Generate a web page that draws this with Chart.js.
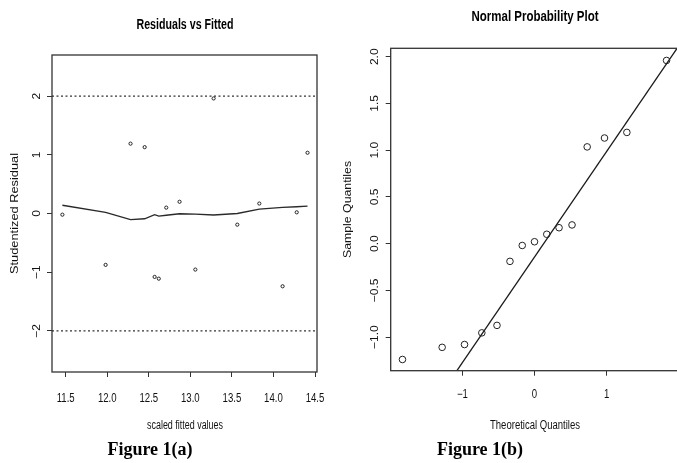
<!DOCTYPE html>
<html>
<head>
<meta charset="utf-8">
<script src="https://cdn.jsdelivr.net/npm/chart.js@4"></script>
<style>
  html, body { margin:0; padding:0; background:#fff; width:677px; height:463px; overflow:hidden; }
  #wrap { position:relative; width:677px; height:463px; overflow:hidden; }
  canvas { position:absolute; top:0; }
  #c1 { left:0; }
  #c2 { left:340px; }
</style>
</head>
<body>
<div id="wrap">
  <canvas id="c1" width="340" height="463"></canvas>
  <canvas id="c2" width="342" height="463"></canvas>
</div>
<script>
// ---------- Figure 1(a) data : Residuals vs Fitted ----------
const fittedX = [11.46, 11.98, 12.28, 12.45, 12.57, 12.62, 12.71, 12.87, 13.06, 13.28, 13.565, 13.83, 14.11, 14.28, 14.41];
const residY  = [-0.02, -0.875, 1.19, 1.13, -1.08, -1.11, 0.10, 0.20, -0.955, 1.96, -0.19, 0.17, -1.24, 0.02, 1.035];
const smoothY = [0.14, 0.02, -0.105, -0.09, -0.02, -0.045, -0.03, -0.005, -0.01, -0.025, 0.0, 0.075, 0.105, 0.115, 0.125];
const refLevels = [2, -2];
const leftXTicks = [11.5, 12.0, 12.5, 13.0, 13.5, 14.0, 14.5];
const leftXLabels = ["11.5", "12.0", "12.5", "13.0", "13.5", "14.0", "14.5"];
const leftYTicks = [-2, -1, 0, 1, 2];
const leftYLabels = ["\u22122", "\u22121", "0", "1", "2"];

// ---------- Figure 1(b) data : Normal Probability Plot ----------
const theoQ   = [-1.83, -1.28, -0.97, -0.73, -0.52, -0.34, -0.17, 0, 0.17, 0.34, 0.52, 0.73, 0.97, 1.28, 1.83];
const sampleQ = [-1.24, -1.11, -1.08, -0.955, -0.875, -0.19, -0.02, 0.02, 0.10, 0.17, 0.20, 1.035, 1.13, 1.19, 1.96];
const qqLineX = [-1.2, 2.1];
const qqLineY = [-1.50, 2.23];
const rightXTicks = [-1, 0, 1];
const rightXLabels = ["\u22121", "0", "1"];
const rightYTicks = [-1.0, -0.5, 0.0, 0.5, 1.0, 1.5, 2.0];
const rightYLabels = ["\u22121.0", "\u22120.5", "0.0", "0.5", "1.0", "1.5", "2.0"];

const SANS = '"Liberation Sans", Arial, Helvetica, sans-serif';
const SERIF = '"Liberation Serif", "Times New Roman", serif';

function drawText(ctx, txt, x, y, font, opt) {
  opt = opt || {};
  ctx.save();
  ctx.font = font;
  ctx.fillStyle = opt.color || '#111';
  ctx.textAlign = 'center';
  ctx.textBaseline = 'middle';
  ctx.translate(x, y);
  if (opt.rot) ctx.rotate(opt.rot);
  let sx = opt.sx || 1;
  if (opt.w) sx = opt.w / ctx.measureText(txt).width;
  ctx.scale(sx, opt.sy || 1);
  ctx.fillText(txt, 0, 0);
  ctx.restore();
}

function makeDecor(cfg) {
  return {
    id: 'decor',
    afterDraw(chart) {
      const ctx = chart.ctx, a = chart.chartArea;
      const xs = chart.scales.x, ys = chart.scales.y;
      ctx.save();
      ctx.strokeStyle = '#333';
      ctx.lineWidth = 1.3;
      ctx.strokeRect(a.left, a.top, a.right - a.left, a.bottom - a.top);
      ctx.restore();
      cfg.xTicks.forEach((v, i) => drawText(ctx, cfg.xLabels[i], xs.getPixelForValue(v), cfg.xLabelY, '12px ' + SANS, {sx: 0.8, color:'#111'}));
      cfg.yTicks.forEach((v, i) => drawText(ctx, cfg.yLabels[i], cfg.yLabelX, ys.getPixelForValue(v), '12px ' + SANS, {rot: -Math.PI/2, sy: 0.92, color:'#111'}));
      drawText(ctx, cfg.title, cfg.titleX, cfg.titleY, 'bold 14px ' + SANS, {w: cfg.titleW, color:'#000'});
      drawText(ctx, cfg.xTitle, cfg.xTitleX, cfg.xTitleY, '12px ' + SANS, {w: cfg.xTitleW, color:'#111'});
      drawText(ctx, cfg.yTitle, cfg.yTitleX, (a.top + a.bottom) / 2, cfg.yTitleFont + ' ' + SANS, {rot: -Math.PI/2, sy: 0.92, color:'#111'});
      drawText(ctx, cfg.caption, cfg.capX, cfg.capY, 'bold 18px ' + SERIF, {color:'#000'});
    }
  };
}

function scaleOpts(min, max, ticks, fitFn) {
  return {
    type: 'linear', min: min, max: max,
    afterBuildTicks: s => { s.ticks = ticks.map(v => ({ value: v })); },
    afterFit: fitFn,
    ticks: { display: false },
    grid: { display: true, drawOnChartArea: false, drawTicks: true, tickLength: 5, color: '#333', lineWidth: 1 },
    border: { display: false }
  };
}

const common = {
  responsive: false, animation: false, devicePixelRatio: 1,
  plugins: { legend: { display: false }, tooltip: { enabled: false }, title: { display: false } }
};

// Left chart
new Chart(document.getElementById('c1'), {
  type: 'scatter',
  data: {
    datasets: [
      { data: fittedX.map((x, i) => ({ x: x, y: residY[i] })), pointRadius: 1.6, pointBorderWidth: 1,
        pointBorderColor: '#222', pointBackgroundColor: 'rgba(0,0,0,0)', showLine: false },
      { data: fittedX.map((x, i) => ({ x: x, y: smoothY[i] })), showLine: true, pointRadius: 0,
        borderColor: '#2a2a2a', borderWidth: 1.4, tension: 0 },
      { data: [{ x: 11.335, y: refLevels[0] }, { x: 14.524, y: refLevels[0] }], showLine: true, pointRadius: 0,
        borderColor: '#333', borderWidth: 1.1, borderDash: [2, 2.5] },
      { data: [{ x: 11.335, y: refLevels[1] }, { x: 14.524, y: refLevels[1] }], showLine: true, pointRadius: 0,
        borderColor: '#333', borderWidth: 1.1, borderDash: [2, 2.5] }
    ]
  },
  options: Object.assign({}, common, {
    layout: { padding: { top: 55, left: 0, right: 23, bottom: 0 }, autoPadding: false },
    scales: {
      x: scaleOpts(11.335, 14.524, leftXTicks, s => { s.height = 91; }),
      y: scaleOpts(-2.70, 2.70, leftYTicks, s => { s.width = 52; })
    }
  }),
  plugins: [makeDecor({
    xTicks: leftXTicks, xLabels: leftXLabels, xLabelY: 399,
    yTicks: leftYTicks, yLabels: leftYLabels, yLabelX: 37,
    title: 'Residuals vs Fitted', titleX: 185, titleY: 25.5, titleW: 97,
    xTitle: 'scaled fitted values', xTitleX: 185, xTitleY: 426, xTitleW: 76,
    yTitle: 'Studentized Residual', yTitleX: 14.5, yTitleFont: '12.8px',
    caption: 'Figure 1(a)', capX: 150, capY: 450
  })]
});

// Right chart
new Chart(document.getElementById('c2'), {
  type: 'scatter',
  data: {
    datasets: [
      { data: theoQ.map((x, i) => ({ x: x, y: sampleQ[i] })), pointRadius: 3.3, pointBorderWidth: 1,
        pointBorderColor: '#222', pointBackgroundColor: 'rgba(0,0,0,0)', showLine: false },
      { data: qqLineX.map((x, i) => ({ x: x, y: qqLineY[i] })), showLine: true, pointRadius: 0,
        borderColor: '#1a1a1a', borderWidth: 1.3 }
    ]
  },
  options: Object.assign({}, common, {
    layout: { padding: { top: 48.3, left: 0, right: 3.9, bottom: 0 }, autoPadding: false },
    scales: {
      x: scaleOpts(-1.993, 1.99, rightXTicks, s => { s.height = 92.3; }),
      y: scaleOpts(-1.36, 2.09, rightYTicks, s => { s.width = 50.7; })
    }
  }),
  plugins: [makeDecor({
    xTicks: rightXTicks, xLabels: rightXLabels, xLabelY: 394.5,
    yTicks: rightYTicks, yLabels: rightYLabels, yLabelX: 34.5,
    title: 'Normal Probability Plot', titleX: 195, titleY: 17, titleW: 127,
    xTitle: 'Theoretical Quantiles', xTitleX: 195, xTitleY: 426, xTitleW: 90,
    yTitle: 'Sample Quantiles', yTitleX: 8, yTitleFont: '12.3px',
    caption: 'Figure 1(b)', capX: 140, capY: 450
  })]
});
</script>
</body>
</html>
